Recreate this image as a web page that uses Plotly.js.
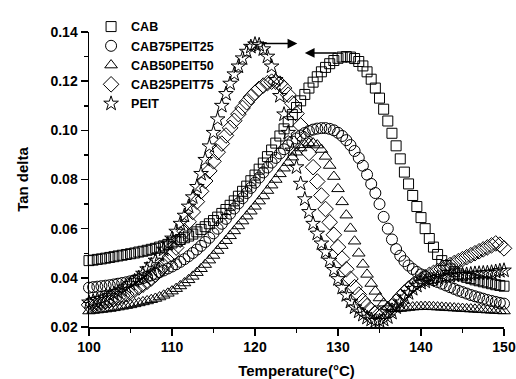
<!DOCTYPE html>
<html>
<head>
<meta charset="utf-8">
<script src="https://cdn.plot.ly/plotly-3.0.1.min.js"></script>
<style>html,body{margin:0;padding:0;background:#fff}#chart{width:516px;height:379px}</style>
</head>
<body>
<div id="chart"></div>
<script>
// Temperature (°C)
const temps = [100,100.5,101,101.5,102,102.5,103,103.5,104,104.5,105,105.5,106,106.5,107,107.5,108,108.5,109,109.5,
110,110.5,111,111.5,112,112.5,113,113.5,114,114.5,115,115.5,116,116.5,117,117.5,118,118.5,119,119.5,
120,120.5,121,121.5,122,122.5,123,123.5,124,124.5,125,125.5,126,126.5,127,127.5,128,128.5,129,129.5,
130,130.5,131,131.5,132,132.5,133,133.5,134,134.5,135,135.5,136,136.5,137,137.5,138,138.5,139,139.5,
140,140.5,141,141.5,142,142.5,143,143.5,144,144.5,145,145.5,146,146.5,147,147.5,148,148.5,149,149.5,150];

const seriesNames = ["CAB","CAB75PEIT25","CAB50PEIT50","CAB25PEIT75","PEIT"];

const cab = [.0470,.0472,.0475,.0477,.0480,.0483,.0486,.0489,.0492,.0495,.0498,.0501,.0505,.0508,.0512,.0516,.0520,.0525,.0530,.0536,
.0542,.0549,.0556,.0563,.0570,.0578,.0587,.0597,.0608,.0620,.0633,.0647,.0662,.0678,.0695,.0713,.0732,.0752,.0773,.0795,
.0818,.0842,.0867,.0893,.0920,.0948,.0977,.1006,.1035,.1064,.1093,.1120,.1146,.1172,.1196,.1218,.1238,.1256,.1271,.1284,
.1293,.1298,.1300,.1298,.1292,.1280,.1262,.1238,.1208,.1172,.1131,.1086,.1038,.0988,.0937,.0884,.0830,.0782,.0735,.0690,
.0645,.0600,.0560,.0525,.0495,.0470,.0450,.0436,.0425,.0416,.0408,.0402,.0397,.0392,.0388,.0384,.0380,.0376,.0372,.0369,.0366];

const cab75peit25 = [.0360,.0362,.0364,.0366,.0368,.0370,.0373,.0376,.0379,.0382,.0386,.0390,.0394,.0399,.0404,.0410,.0416,.0423,.0430,.0438,
.0446,.0455,.0465,.0476,.0488,.0501,.0515,.0530,.0546,.0563,.0581,.0600,.0620,.0640,.0661,.0682,.0703,.0724,.0745,.0766,
.0787,.0808,.0829,.0849,.0869,.0888,.0906,.0923,.0939,.0954,.0967,.0979,.0989,.0997,.1003,.1007,.1009,.1009,.1006,.1000,
.0990,.0977,.0960,.0940,.0916,.0888,.0856,.0820,.0782,.0745,.0700,.0648,.0600,.0556,.0517,.0490,.0468,.0450,.0436,.0424,
.0414,.0406,.0398,.0390,.0383,.0376,.0369,.0362,.0355,.0348,.0342,.0336,.0330,.0325,.0320,.0315,.0310,.0306,.0302,.0298,.0295];

const cab50peit50 = [.0265,.0267,.0269,.0271,.0273,.0275,.0278,.0281,.0284,.0287,.0290,.0294,.0298,.0302,.0306,.0311,.0316,.0322,.0329,.0337,
.0346,.0356,.0367,.0379,.0392,.0406,.0421,.0437,.0454,.0472,.0491,.0511,.0531,.0551,.0571,.0591,.0611,.0631,.0651,.0671,
.0691,.0712,.0733,.0755,.0777,.0800,.0823,.0846,.0869,.0891,.0911,.0928,.0941,.0948,.0948,.0940,.0922,.0894,.0857,.0812,
.0762,.0709,.0655,.0601,.0549,.0500,.0455,.0414,.0377,.0345,.0318,.0297,.0283,.0276,.0274,.0275,.0277,.0279,.0281,.0282,
.0283,.0283,.0283,.0282,.0281,.0280,.0279,.0278,.0277,.0276,.0275,.0274,.0273,.0272,.0271,.0270,.0269,.0268,.0267,.0266,.0265];

const cab25peit75 = [.0290,.0293,.0296,.0300,.0304,.0309,.0314,.0320,.0327,.0334,.0342,.0351,.0361,.0372,.0384,.0397,.0412,.0429,.0448,.0470,
.0495,.0523,.0555,.0590,.0628,.0668,.0710,.0752,.0794,.0835,.0874,.0911,.0946,.0979,.1010,.1039,.1066,.1091,.1114,.1135,
.1153,.1169,.1182,.1192,.1198,.1198,.1190,.1172,.1145,.1110,.1068,.1020,.0965,.0908,.0850,.0792,.0735,.0680,.0626,.0575,
.0525,.0478,.0435,.0396,.0362,.0332,.0306,.0285,.0269,.0258,.0253,.0256,.0267,.0284,.0303,.0322,.0340,.0356,.0370,.0382,
.0393,.0403,.0412,.0420,.0428,.0436,.0444,.0452,.0460,.0468,.0476,.0484,.0492,.0500,.0508,.0516,.0524,.0532,.0540,.0535,.0520];

const peit = [.0300,.0305,.0310,.0315,.0320,.0327,.0335,.0342,.0350,.0362,.0375,.0387,.0400,.0417,.0435,.0452,.0470,.0492,.0515,.0537,
.0560,.0588,.0620,.0653,.0690,.0728,.0770,.0823,.0880,.0935,.0990,.1045,.1100,.1148,.1190,.1228,.1260,.1293,.1320,.1340,
.1350,.1347,.1330,.1300,.1260,.1205,.1140,.1065,.0990,.0918,.0850,.0783,.0720,.0668,.0620,.0580,.0540,.0505,.0470,.0432,
.0395,.0360,.0330,.0303,.0280,.0263,.0250,.0238,.0230,.0225,.0225,.0230,.0240,.0258,.0280,.0300,.0320,.0338,.0355,.0368,
.0380,.0385,.0390,.0395,.0400,.0403,.0405,.0408,.0410,.0411,.0412,.0413,.0415,.0417,.0418,.0419,.0420,.0422,.0425,.0428,.0430];

const xTickVals = [100,110,120,130,140,150];
const yTickVals = [0.02,0.04,0.06,0.08,0.10,0.12,0.14];

// arrows: [tailX, headX, y]
const arrowRight = [120.6, 125.1, 0.1353];
const arrowLeft = [130.0, 126.0, 0.1315];

const symbols = ["square-open","circle-open","triangle-up-open","diamond-open","star-open"];
const sizes = [10,11,11,12,11];
const values = [cab, cab75peit25, cab50peit50, cab25peit75, peit];

const traces = values.map((v,i)=>({
  x: temps, y: v, type:'scatter', mode:'markers', name: seriesNames[i],
  marker:{symbol: symbols[i], size: sizes[i], color:'#000', line:{color:'#000', width:1}},
  cliponaxis:false
}));

const font = 'Liberation Sans, Arial, sans-serif';
const layout = {
  width:516, height:379,
  margin:{l:89, r:12, t:21, b:52},
  paper_bgcolor:'#fff', plot_bgcolor:'#fff',
  showlegend:true,
  legend:{x:0.005, y:1.068, xanchor:'left', yanchor:'top', bgcolor:'rgba(0,0,0,0)',
          font:{family:font, size:12.5, color:'#000', weight:'bold'}, tracegroupgap:0},
  xaxis:{range:[100,150], tickvals:xTickVals, ticks:'outside', ticklen:7, tickwidth:1.5, tickcolor:'#000',
         showline:true, linecolor:'#000', linewidth:1.5, showgrid:false, zeroline:false, mirror:false,
         minor:{dtick:5, tick0:100, ticks:'outside', ticklen:4, tickwidth:1.5, tickcolor:'#000'},
         tickfont:{family:font, size:14, color:'#000', weight:'bold'},
         title:{text:'Temperature(°C)', font:{family:font, size:15, color:'#000', weight:'bold'}, standoff:14}},
  yaxis:{range:[0.02,0.14], tickvals:yTickVals, tickformat:'.2f', ticks:'outside', ticklen:7, tickwidth:1.5, tickcolor:'#000',
         showline:true, linecolor:'#000', linewidth:1.5, showgrid:false, zeroline:false, mirror:false,
         minor:{dtick:0.01, tick0:0.02, ticks:'outside', ticklen:4, tickwidth:1.5, tickcolor:'#000'},
         tickfont:{family:font, size:14, color:'#000', weight:'bold'},
         title:{text:'Tan delta', font:{family:font, size:15, color:'#000', weight:'bold'}, standoff:18}},
  annotations:[
    {x:arrowRight[1], y:arrowRight[2], ax:arrowRight[0], ay:arrowRight[2], xref:'x', yref:'y', axref:'x', ayref:'y',
     text:'', showarrow:true, arrowhead:2, arrowsize:1.3, arrowwidth:1.5, arrowcolor:'#000'},
    {x:arrowLeft[1], y:arrowLeft[2], ax:arrowLeft[0], ay:arrowLeft[2], xref:'x', yref:'y', axref:'x', ayref:'y',
     text:'', showarrow:true, arrowhead:2, arrowsize:1.3, arrowwidth:1.5, arrowcolor:'#000'}
  ]
};

Plotly.newPlot('chart', traces, layout, {displayModeBar:false, staticPlot:true});
</script>
</body>
</html>
